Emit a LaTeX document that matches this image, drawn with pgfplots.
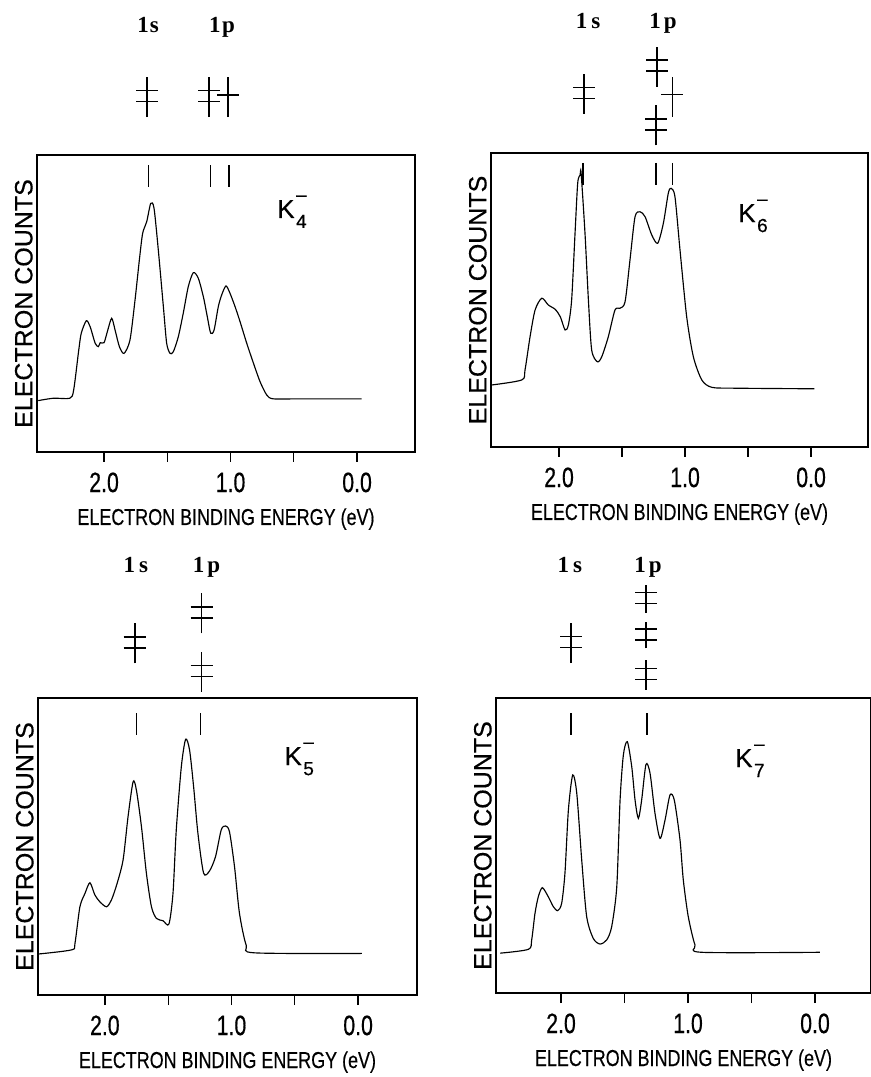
\documentclass[border=0pt]{standalone}
\usepackage{fontspec}
\setmainfont{Liberation Sans}[FakeBold=0.4]
\newfontfamily\cond{Liberation Sans}[FakeStretch=0.76,FakeBold=0.5]
\newfontfamily\xcond{Liberation Sans}[FakeStretch=0.78,FakeBold=0.4]
\newfontfamily\lserif{Liberation Serif}
\usepackage{pgfplots}
\pgfplotsset{compat=1.18}
\tikzset{lev/.style={line width=1.7bp,black}, mk/.style={line width=1.6bp,black},
  crv/.style={black,line width=1.15bp,smooth,tension=0.45,mark=none}}
% double-occupied level: [half length]{x}{y}
\newcommand\dlev[3][20]{%
  \draw[lev] (axis cs:#2,#3) ++(0bp,-#1bp) -- ++(0bp,2*#1bp);
  \draw[lev] (axis cs:#2,#3) ++(-11bp,6.5bp) -- ++(22bp,0bp);
  \draw[lev] (axis cs:#2,#3) ++(-11bp,-4.5bp) -- ++(22bp,0bp);}
\newcommand\slev[2]{%
  \draw[lev] (axis cs:#1,#2) ++(0bp,-20bp) -- ++(0bp,40bp);
  \draw[lev] (axis cs:#1,#2) ++(-11bp,2bp) -- ++(22bp,0bp);}
\newcommand\tickmk[3]{\draw[mk] (axis cs:#1,#2) -- (axis cs:#1,#3);}
\newcommand\orb[3]{\node[font=\lserif\bfseries\fontsize{23bp}{23bp}\selectfont,anchor=base,inner sep=0pt] at (axis cs:#1,#2) {#3};}
\newcommand\klab[3]{\node[font=\fontsize{26bp}{26bp}\selectfont,anchor=base west,inner sep=0pt] at (axis cs:#1,#2)
  {K\kern1.5bp\rlap{\raisebox{17bp}{\fontsize{19bp}{19bp}\selectfont –}}\raisebox{-10bp}{\fontsize{19bp}{19bp}\selectfont #3}};}
\pgfplotsset{panel/.style={
  scale only axis, x dir=reverse, ymin=0, ymax=1, ytick=\empty,
  xtick={0,0.5,1,1.5,2}, xticklabels={0.0,{},1.0,{},2.0},
  xtick pos=left, tick align=outside, major tick length=10bp,
  axis line style={line width=1.4bp},
  every tick/.style={black,line width=1.3bp},
  clip=false,
  xticklabel style={font=\cond\fontsize{28bp}{28bp}\selectfont, yshift=-7bp},
  xlabel={ELECTRON BINDING ENERGY (eV)},
  xlabel style={font=\xcond\fontsize{23bp}{23bp}\selectfont, at={(axis description cs:0.5,0)}, anchor=base, yshift=-73bp},
  ylabel={ELECTRON COUNTS},
  ylabel style={font=\fontsize{25bp}{25bp}\selectfont, at={(axis description cs:-0.011,0.5)}, anchor=south, inner sep=0pt},
}}
\begin{document}
\begin{tikzpicture}
\path[use as bounding box] (0,0) rectangle (871bp,1077bp);
% ---------------- K4 (top left)
\begin{axis}[panel, at={(37bp,625bp)}, anchor=south west, width=378bp, height=297bp, xmin=-0.458, xmax=2.530]
\addplot[crv] table[row sep=\\] {
x y\\
2.52 0.173\\ 2.40 0.181\\ 2.27 0.181\\ 2.24 0.209\\ 2.20 0.343\\ 2.18 0.40\\ 2.14 0.442\\ 2.11 0.422\\
2.07 0.366\\ 2.045 0.355\\ 2.03 0.368\\ 2.00 0.368\\ 1.974 0.405\\ 1.94 0.450\\ 1.913 0.411\\ 1.879 0.355\\
1.842 0.332\\ 1.795 0.377\\ 1.755 0.512\\ 1.721 0.646\\ 1.695 0.736\\ 1.663 0.775\\ 1.631 0.837\\ 1.605 0.821\\
1.571 0.680\\ 1.531 0.489\\ 1.505 0.366\\ 1.478 0.332\\ 1.452 0.338\\ 1.413 0.388\\ 1.374 0.467\\ 1.334 0.557\\
1.294 0.604\\ 1.255 0.585\\ 1.215 0.523\\ 1.184 0.456\\ 1.157 0.40\\ 1.13 0.411\\ 1.097 0.489\\ 1.07 0.529\\
1.036 0.559\\ 1.004 0.534\\ 0.964 0.489\\ 0.925 0.439\\ 0.872 0.366\\ 0.819 0.299\\ 0.767 0.237\\ 0.714 0.192\\
0.662 0.179\\ 0.45 0.179\\ -0.037 0.179\\
};
\tickmk{1.65}{0.966}{0.892}\tickmk{1.157}{0.966}{0.892}\tickmk{1.01}{0.966}{0.892}
\klab{0.632}{0.788}{4}
\orb{1.652}{1.414}{1\kern1bp s}\orb{1.067}{1.414}{1\kern1.5bp p}
\dlev{1.66}{1.195}\dlev{1.17}{1.195}\slev{1.02}{1.195}
\end{axis}
% ---------------- K6 (top right)
\begin{axis}[panel, at={(491bp,630bp)}, anchor=south west, width=377bp, height=294bp, xmin=-0.452, xmax=2.540]
\addplot[crv] table[row sep=\\] {
x y\\
2.534 0.211\\ 2.296 0.228\\ 2.27 0.262\\ 2.23 0.375\\ 2.19 0.466\\ 2.137 0.506\\ 2.085 0.483\\ 2.03 0.468\\
1.99 0.443\\ 1.952 0.398\\ 1.926 0.415\\ 1.90 0.50\\ 1.873 0.727\\ 1.852 0.897\\ 1.833 0.925\\ 1.825 0.932\\
1.794 0.727\\ 1.767 0.50\\ 1.741 0.33\\ 1.696 0.29\\ 1.661 0.307\\ 1.609 0.375\\ 1.556 0.466\\ 1.516 0.472\\
1.476 0.494\\ 1.437 0.636\\ 1.397 0.783\\ 1.357 0.80\\ 1.317 0.783\\ 1.264 0.721\\ 1.217 0.693\\ 1.172 0.761\\
1.133 0.863\\ 1.111 0.88\\ 1.08 0.851\\ 1.04 0.67\\ 0.987 0.443\\ 0.934 0.307\\ 0.867 0.228\\ 0.788 0.203\\
0.603 0.20\\ -0.026 0.198\\
};
\tickmk{1.81}{0.966}{0.891}\tickmk{1.23}{0.966}{0.891}\tickmk{1.10}{0.966}{0.891}
\klab{0.579}{0.765}{6}
\orb{1.77}{1.425}{1\kern4bp s}\orb{1.175}{1.425}{1\kern3bp p}
\dlev{1.80}{1.201}\dlev{1.22}{1.293}\slev{1.10}{1.192}\dlev{1.23}{1.094}
\end{axis}
% ---------------- K5 (bottom left)
\begin{axis}[panel, at={(38bp,82bp)}, anchor=south west, width=379bp, height=297bp, xmin=-0.465, xmax=2.528]
\addplot[crv] table[row sep=\\] {
x y\\
2.525 0.138\\ 2.262 0.152\\ 2.236 0.174\\ 2.197 0.297\\ 2.157 0.342\\ 2.118 0.378\\ 2.079 0.337\\ 2.04 0.314\\
1.987 0.297\\ 1.948 0.32\\ 1.903 0.376\\ 1.856 0.455\\ 1.817 0.60\\ 1.777 0.718\\ 1.751 0.69\\ 1.711 0.567\\
1.672 0.41\\ 1.632 0.297\\ 1.593 0.258\\ 1.541 0.25\\ 1.494 0.239\\ 1.462 0.342\\ 1.436 0.556\\ 1.396 0.769\\
1.362 0.861\\ 1.331 0.825\\ 1.299 0.701\\ 1.265 0.544\\ 1.22 0.41\\ 1.173 0.418\\ 1.126 0.466\\ 1.081 0.556\\
1.047 0.569\\ 1.016 0.55\\ 0.976 0.432\\ 0.937 0.275\\ 0.884 0.168\\ 0.819 0.142\\ -0.029 0.14\\
};
\tickmk{1.75}{0.949}{0.875}\tickmk{1.244}{0.949}{0.875}
\klab{0.583}{0.774}{5}
\orb{1.756}{1.421}{1\kern4bp s}\orb{1.197}{1.421}{1\kern3bp p}
\dlev{1.764}{1.184}\dlev{1.236}{1.285}\dlev{1.236}{1.088}
\end{axis}
% ---------------- K7 (bottom right)
\begin{axis}[panel, at={(496bp,84bp)}, anchor=south west, width=375bp, height=295bp, xmin=-0.441, xmax=2.512]
\addplot[crv] table[row sep=\\] {
x y\\
2.48 0.135\\ 2.257 0.148\\ 2.231 0.18\\ 2.205 0.27\\ 2.179 0.326\\ 2.147 0.357\\ 2.10 0.326\\ 2.061 0.293\\
2.026 0.279\\ 1.995 0.304\\ 1.969 0.406\\ 1.942 0.62\\ 1.908 0.739\\ 1.876 0.677\\ 1.837 0.451\\ 1.798 0.259\\
1.746 0.185\\ 1.693 0.166\\ 1.64 0.18\\ 1.601 0.225\\ 1.561 0.36\\ 1.535 0.654\\ 1.509 0.807\\ 1.478 0.852\\
1.443 0.767\\ 1.417 0.654\\ 1.391 0.592\\ 1.365 0.654\\ 1.331 0.775\\ 1.299 0.745\\ 1.26 0.609\\ 1.22 0.524\\
1.181 0.586\\ 1.142 0.671\\ 1.108 0.654\\ 1.063 0.519\\ 1.037 0.383\\ 0.998 0.259\\ 0.945 0.163\\ 0.892 0.138\\
-0.039 0.138\\
};
\tickmk{1.92}{0.949}{0.875}\tickmk{1.323}{0.949}{0.875}
\klab{0.63}{0.766}{7}
\orb{1.93}{1.424}{1\kern4bp s}\orb{1.315}{1.424}{1\kern3bp p}
\dlev{1.92}{1.186}\dlev[14]{1.33}{1.336}\dlev[13]{1.33}{1.212}\dlev[15]{1.33}{1.078}
\end{axis}
\end{tikzpicture}
\end{document}
